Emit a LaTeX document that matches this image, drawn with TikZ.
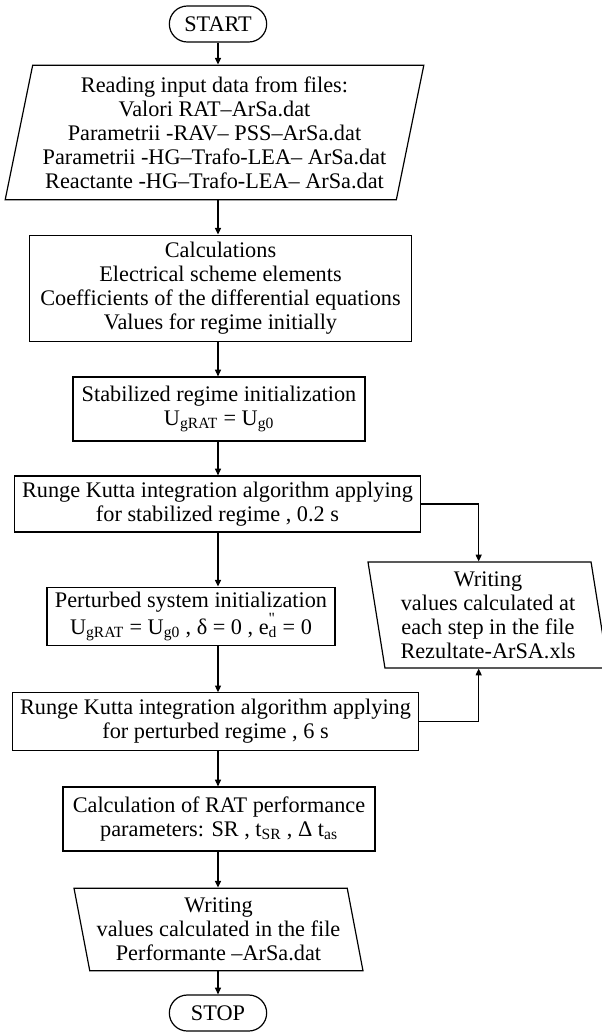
\documentclass[tikz,border=0pt]{standalone}
\usepackage{fontspec}
\setmainfont{Liberation Serif}
\usepackage{tikz}
\usetikzlibrary{arrows.meta, positioning, shapes.geometric, shapes.misc}

\begin{document}
\begin{tikzpicture}[
    x=0.75pt, y=-0.75pt,
    >={Triangle[length=5pt, width=4.5pt]}, line width=0.9pt,
    every node/.style={font=\fontsize{16.7}{18}\selectfont, align=center, inner sep=1pt},
    terminal/.style={draw, rounded rectangle, minimum width=75pt, minimum height=27pt},
    procbox/.style={draw, rectangle},
    iobox/.style={draw, trapezium, trapezium stretches body=true}
]
\useasboundingbox (0,0) rectangle (601,1032);

% Start / stop
\node[terminal] (start) at (218,24) {START};
\node[terminal] (stop) at (218,1013) {STOP};

% Input data
\node[iobox, trapezium left angle=76.5, trapezium right angle=103.5,
      minimum width=314pt, minimum height=101pt] (input) at (214.5,132.5)
    {Reading input data from files:\\ Valori RAT--ArSa.dat\\ Parametrii -RAV-- PSS--ArSa.dat\\
     Parametrii -HG--Trafo-LEA-- ArSa.dat\\ Reactante -HG--Trafo-LEA-- ArSa.dat};

% Processing steps
\node[procbox, minimum width=287pt, minimum height=80pt] (calc) at (220.5,288.5)
    {Calculations\\ Electrical scheme elements\\ Coefficients of the differential equations\\ Values for regime initially};
\node[procbox, minimum width=219pt, minimum height=48pt] (stab) at (219,409)
    {Stabilized regime initialization\\ U\textsubscript{gRAT} = U\textsubscript{g0}};
\node[procbox, minimum width=304pt, minimum height=42pt] (rk1) at (217.5,504)
    {Runge Kutta integration algorithm applying\\ for stabilized regime , 0.2 s};
\node[procbox, minimum width=216pt, minimum height=44pt] (pert) at (191,616.5)
    {Perturbed system initialization\\ U\textsubscript{gRAT} = U\textsubscript{g0} , δ = 0 ,
     e\rlap{\raisebox{2pt}{\textsuperscript{\textquotedbl}}}\textsubscript{d} = 0};
\node[procbox, minimum width=304pt, minimum height=43pt] (rk2) at (215.5,721.5)
    {Runge Kutta integration algorithm applying\\ for perturbed regime , 6 s};
\node[procbox, minimum width=234pt, minimum height=48pt] (perf) at (219,819)
    {Calculation of RAT performance\\ parameters: SR , t\textsubscript{SR} , Δ t\textsubscript{as}};

% Output files
\node[iobox, trapezium left angle=103.5, trapezium right angle=76.5,
      minimum width=216.75pt, minimum height=62pt] (wrout) at (218.5,929.5)
    {Writing\\ values calculated in the file\\ Performante --ArSa.dat};
\node[iobox, trapezium left angle=100.7, trapezium right angle=79.3,
      minimum width=180pt, minimum height=79.5pt] (wrres) at (488,615)
    {Writing\\ values calculated at\\ each step in the file\\ Rezultate-ArSA.xls};

% Main flow
\coordinate (axis) at (218,0);
\foreach \a/\b in {start/input, input/calc, calc/stab, stab/rk1, rk1/pert,
                   pert/rk2, rk2/perf, perf/wrout, wrout/stop}
    \draw[->] (axis |- \a.south) -- (axis |- \b.north);

% Side branch to the result file
\draw[->] (rk1.east) -| ([xshift=-7pt]wrres.north);
\draw[->] (rk2.east) -| ([xshift=-7pt]wrres.north |- wrres.south);
\end{tikzpicture}
\end{document}
